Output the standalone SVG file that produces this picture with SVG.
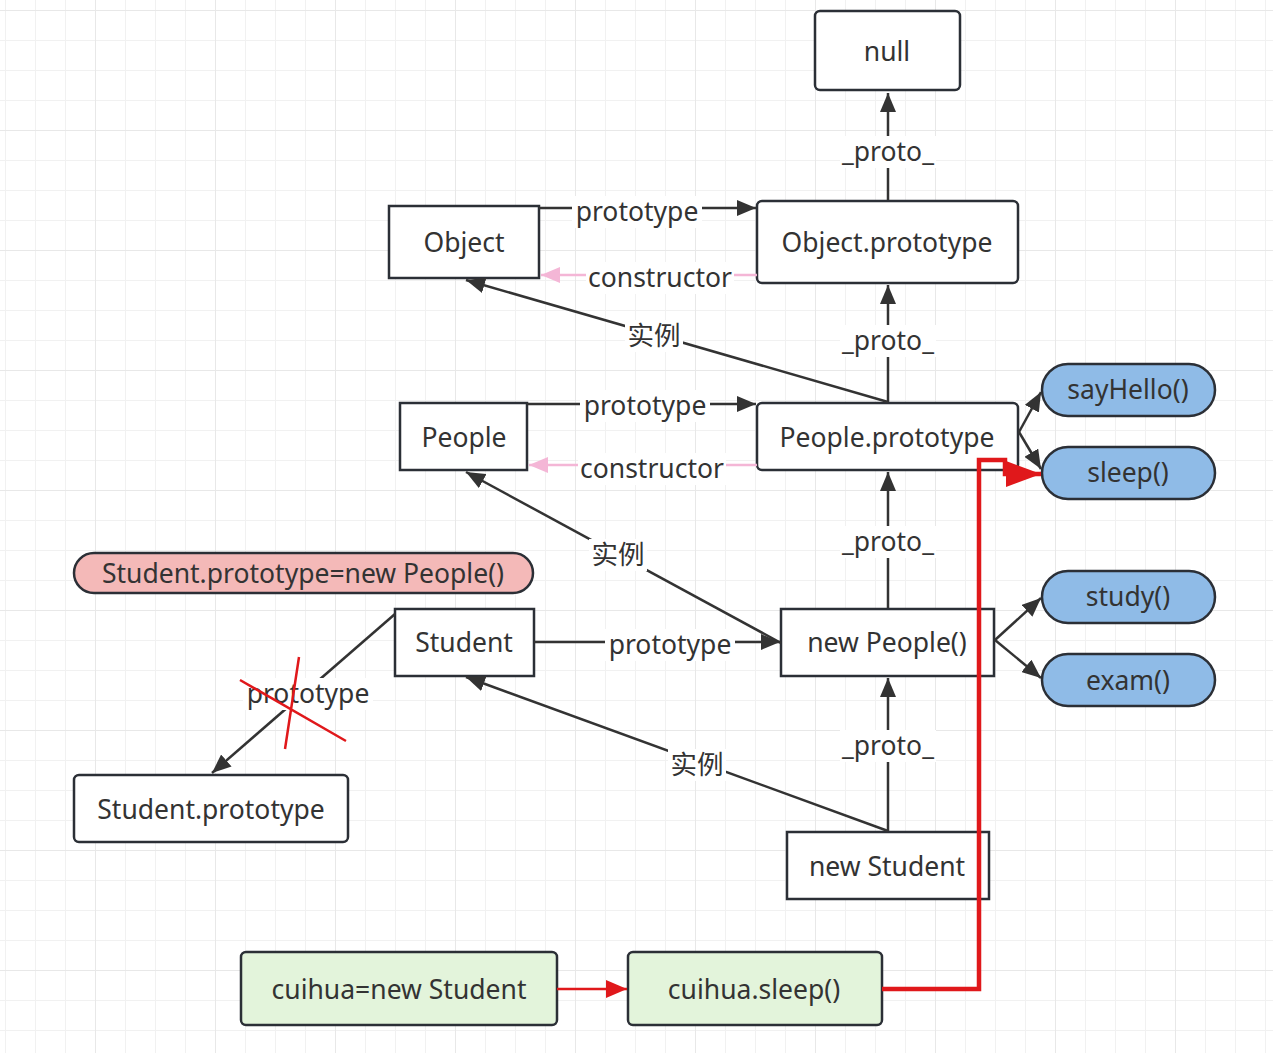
<svg xmlns="http://www.w3.org/2000/svg" width="1273" height="1053" viewBox="0 0 1273 1053">
<defs>
<pattern id="minor" x="5" y="10" width="30" height="30" patternUnits="userSpaceOnUse">
<path d="M0,0 H30 M0,0 V30" stroke="#f1f1f1" stroke-width="2" fill="none"/>
</pattern>
<pattern id="major" x="95" y="10" width="120" height="120" patternUnits="userSpaceOnUse">
<path d="M0,0 H120 M0,0 V120" stroke="#e8e8e8" stroke-width="2" fill="none"/>
</pattern>
<marker id="ah" markerUnits="userSpaceOnUse" markerWidth="20" markerHeight="16" refX="19" refY="8" orient="auto">
<path d="M0,0 L19,8 L0,16 z" fill="#333"/>
</marker>
<marker id="ahp" markerUnits="userSpaceOnUse" markerWidth="20" markerHeight="16" refX="19" refY="8" orient="auto">
<path d="M0,0 L19,8 L0,16 z" fill="#f4b6d6"/>
</marker>
<marker id="ahr" markerUnits="userSpaceOnUse" markerWidth="22" markerHeight="18" refX="21" refY="9" orient="auto">
<path d="M0,0 L21,9 L0,18 z" fill="#e0181b"/>
</marker>
<marker id="ahrb" markerUnits="userSpaceOnUse" markerWidth="36" markerHeight="26" refX="35" refY="13" orient="auto">
<path d="M0,0 L35,13 L0,26 z" fill="#e0181b"/>
</marker>
</defs>
<style>
.n rect{fill:#fff;stroke:#2b2f36;stroke-width:2.5}
.blue rect{fill:#8fbbe7}
.pink rect{fill:#f4b9b8}
.green rect{fill:#e3f4db}
text{font-family:"Noto Sans","Noto Sans CJK SC",sans-serif;font-size:26.5px;fill:#333;text-anchor:middle;dominant-baseline:central}
.c path{fill:none;stroke:#333;stroke-width:2.5}
.c .p{stroke:#f4b6d6}
.c .r{stroke:#e0181b}
.lb{fill:#fff}
</style>
<rect width="1273" height="1053" fill="#fff"/>
<rect width="1273" height="1053" fill="url(#minor)"/>
<rect width="1273" height="1053" fill="url(#major)"/>

<g id="null" class="n"><rect x="815" y="11" width="145" height="79" rx="5"/><text x="887" y="51">null</text></g>
<g id="object" class="n"><rect x="389" y="206" width="150" height="72"/><text x="464" y="242">Object</text></g>
<g id="object-prototype" class="n"><rect x="757" y="201" width="261" height="82" rx="5"/><text x="887" y="242">Object.prototype</text></g>
<g id="people" class="n"><rect x="400" y="403" width="127" height="67"/><text x="464" y="437">People</text></g>
<g id="people-prototype" class="n"><rect x="757" y="403" width="261" height="67" rx="5"/><text x="887" y="437">People.prototype</text></g>
<g id="sayhello" class="n blue"><rect x="1042" y="364" width="173" height="52" rx="26"/><text x="1128" y="389">sayHello()</text></g>
<g id="sleep" class="n blue"><rect x="1042" y="447" width="173" height="52" rx="26"/><text x="1128" y="472">sleep()</text></g>
<g id="student-eq" class="n pink"><rect x="74" y="553" width="459" height="40" rx="20"/><text x="303" y="573">Student.prototype=new People()</text></g>
<g id="student" class="n"><rect x="395" y="609" width="139" height="67"/><text x="464" y="642">Student</text></g>
<g id="new-people" class="n"><rect x="781" y="609" width="213" height="67"/><text x="887" y="642">new People()</text></g>
<g id="study" class="n blue"><rect x="1042" y="571" width="173" height="52" rx="26"/><text x="1128" y="596">study()</text></g>
<g id="exam" class="n blue"><rect x="1042" y="654" width="173" height="52" rx="26"/><text x="1128" y="680">exam()</text></g>
<g id="student-prototype" class="n"><rect x="74" y="775" width="274" height="67" rx="5"/><text x="211" y="809">Student.prototype</text></g>
<g id="new-student" class="n"><rect x="787" y="832" width="202" height="67"/><text x="887" y="866">new Student</text></g>
<g id="cuihua-new" class="n green"><rect x="241" y="952" width="316" height="73" rx="5"/><text x="399" y="989">cuihua=new Student</text></g>
<g id="cuihua-sleep" class="n green"><rect x="628" y="952" width="254" height="73" rx="5"/><text x="754" y="989">cuihua.sleep()</text></g>

<g id="connectors" class="c">
<path d="M888,200 V93" marker-end="url(#ah)"/>
<path d="M539,208 H756" marker-end="url(#ah)"/>
<path class="p" d="M757,275 H541" marker-end="url(#ahp)"/>
<path d="M888,402 V285" marker-end="url(#ah)"/>
<path d="M888,402 L466,280" marker-end="url(#ah)"/>
<path d="M527,404 H756" marker-end="url(#ah)"/>
<path class="p" d="M757,465 H529" marker-end="url(#ahp)"/>
<path d="M1019,432 L1041,392" marker-end="url(#ah)"/>
<path d="M1019,432 L1041,469" marker-end="url(#ah)"/>
<path d="M888,608 V472" marker-end="url(#ah)"/>
<path d="M781,643 L466,472" marker-end="url(#ah)"/>
<path d="M534,642 H780" marker-end="url(#ah)"/>
<path d="M995,640 L1041,598" marker-end="url(#ah)"/>
<path d="M995,640 L1041,678" marker-end="url(#ah)"/>
<path d="M395,614 L212,773" marker-end="url(#ah)"/>
<path d="M888,831 V678" marker-end="url(#ah)"/>
<path d="M888,831 L466,677" marker-end="url(#ah)"/>
<path class="r" d="M557,989 H627" marker-end="url(#ahr)"/>
<path class="r" d="M882,989 H979 V460 H1005 V474 H1041" style="stroke-width:4.5" marker-end="url(#ahrb)"/>

<rect class="lb" x="840" y="136" width="96" height="32"/><text x="888" y="151">_proto_</text>
<rect class="lb" x="572" y="196" width="130" height="32"/><text x="637" y="211">prototype</text>
<rect class="lb" x="586" y="262" width="148" height="32"/><text x="660" y="277">constructor</text>
<rect class="lb" x="840" y="325" width="96" height="32"/><text x="888" y="340">_proto_</text>
<rect class="lb" x="625" y="320" width="58" height="32"/><text x="654" y="335">实例</text>
<rect class="lb" x="580" y="390" width="130" height="32"/><text x="645" y="405">prototype</text>
<rect class="lb" x="578" y="453" width="148" height="32"/><text x="652" y="468">constructor</text>
<rect class="lb" x="840" y="526" width="96" height="32"/><text x="888" y="541">_proto_</text>
<rect class="lb" x="589" y="539" width="58" height="32"/><text x="618" y="554">实例</text>
<rect class="lb" x="605" y="629" width="130" height="32"/><text x="670" y="644">prototype</text>
<rect class="lb" x="243" y="678" width="130" height="32"/><text x="308" y="693">prototype</text>
<rect class="lb" x="840" y="730" width="96" height="32"/><text x="888" y="745">_proto_</text>
<rect class="lb" x="668" y="749" width="58" height="32"/><text x="697" y="764">实例</text>
<path class="r" d="M240,680 L346,741 M299,657 L285,749"/>
</g>
</svg>
